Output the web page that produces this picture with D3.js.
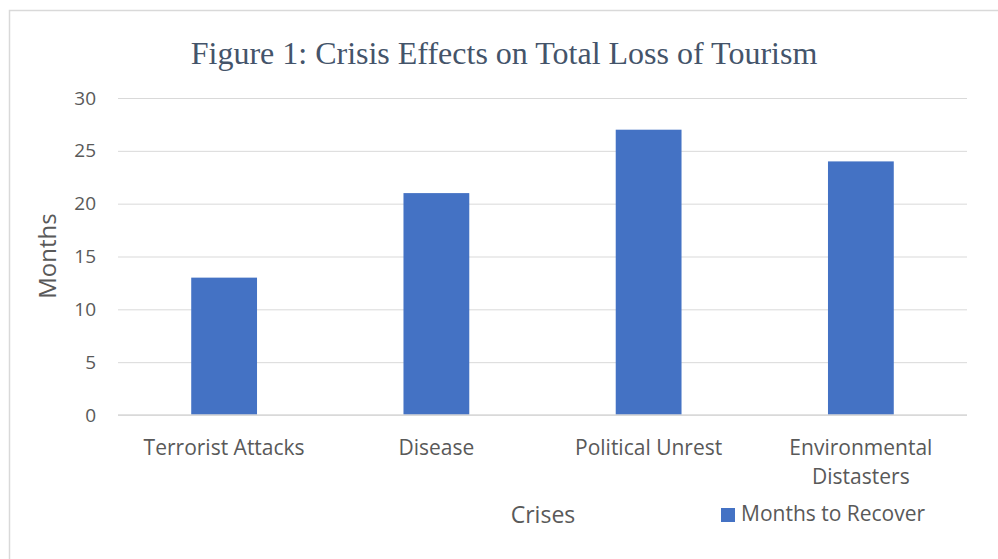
<!DOCTYPE html>
<html>
<head>
<meta charset="utf-8">
<script src="https://cdn.jsdelivr.net/npm/d3@7"></script>
<style>
  body { margin: 0; background: #fff; }
  svg text { font-family: 'Open Sans', sans-serif; fill: #595959; }
</style>
</head>
<body>
<svg id="chart" width="998" height="559"></svg>
<script>
// chart data
var categories = ['Terrorist Attacks', 'Disease', 'Political Unrest', 'Environmental Distasters'];
var months = [13, 21, 27, 24];
var yTicks = [0, 5, 10, 15, 20, 25, 30];

var margin = {top: 98, right: 31, bottom: 144, left: 118};
var width = 998 - margin.left - margin.right;
var height = 559 - margin.top - margin.bottom;

var svg = d3.select('#chart');

// outer frame
svg.append('rect')
    .attr('x', 9.5).attr('y', 10.5)
    .attr('width', 1000).attr('height', 600)
    .attr('fill', 'none').attr('stroke', '#d9d9d9').attr('stroke-width', 1.5);

var x = d3.scaleBand().domain(categories).range([0, width]).paddingInner(0.69).paddingOuter(0.345);
var y = d3.scaleLinear().domain([0, 30]).range([height, 0]);

var g = svg.append('g').attr('transform', 'translate(' + margin.left + ',' + margin.top + ')');

// gridlines
g.append('g')
    .call(d3.axisLeft(y).tickValues(yTicks).tickSize(-width).tickFormat(''))
    .call(function(a) {
      a.select('.domain').remove();
      a.selectAll('line').attr('stroke', '#d9d9d9').attr('stroke-width', 1);
    });

// bars
g.selectAll('.bar')
    .data(months)
  .enter().append('rect')
    .attr('class', 'bar')
    .attr('x', function(d, i) { return x(categories[i]); })
    .attr('y', function(d) { return y(d); })
    .attr('width', x.bandwidth())
    .attr('height', function(d) { return height - y(d); })
    .attr('fill', '#4472c4');

// baseline
g.append('line')
    .attr('x1', 0).attr('x2', width)
    .attr('y1', height).attr('y2', height)
    .attr('stroke', '#d9d9d9').attr('stroke-width', 1.5);

// y tick labels
g.append('g')
    .call(d3.axisLeft(y).tickValues(yTicks).tickSize(0).tickPadding(22))
    .call(function(a) {
      a.select('.domain').remove();
      a.selectAll('text').style('font-size', '19px').style('fill', '#595959');
    });

// x labels, wrap the long one
var xl = g.append('g').attr('transform', 'translate(0,' + height + ')');
categories.forEach(function(c) {
  var lines = c === 'Environmental Distasters' ? c.split(' ') : [c];
  var t = xl.append('text')
      .attr('text-anchor', 'middle')
      .attr('x', x(c) + x.bandwidth() / 2)
      .attr('y', 40)
      .style('font-size', '21px');
  lines.forEach(function(l, i) {
    t.append('tspan')
        .attr('x', x(c) + x.bandwidth() / 2)
        .attr('dy', i === 0 ? 0 : 29)
        .text(l);
  });
});

// title
svg.append('text')
    .attr('x', 504).attr('y', 64)
    .attr('text-anchor', 'middle')
    .style('font-family', "'Liberation Serif', serif")
    .style('font-size', '32px')
    .style('fill', '#44546a')
    .text('Figure 1: Crisis Effects on Total Loss of Tourism');

// axis titles
svg.append('text')
    .attr('transform', 'translate(56,256) rotate(-90)')
    .attr('text-anchor', 'middle')
    .style('font-size', '24px')
    .text('Months');

svg.append('text')
    .attr('x', 543).attr('y', 523)
    .attr('text-anchor', 'middle')
    .style('font-size', '23px')
    .text('Crises');

// legend
svg.append('rect')
    .attr('x', 721).attr('y', 508)
    .attr('width', 14).attr('height', 14)
    .attr('fill', '#4472c4');
svg.append('text')
    .attr('x', 741).attr('y', 521)
    .style('font-size', '21px')
    .text('Months to Recover');
</script>
</body>
</html>
